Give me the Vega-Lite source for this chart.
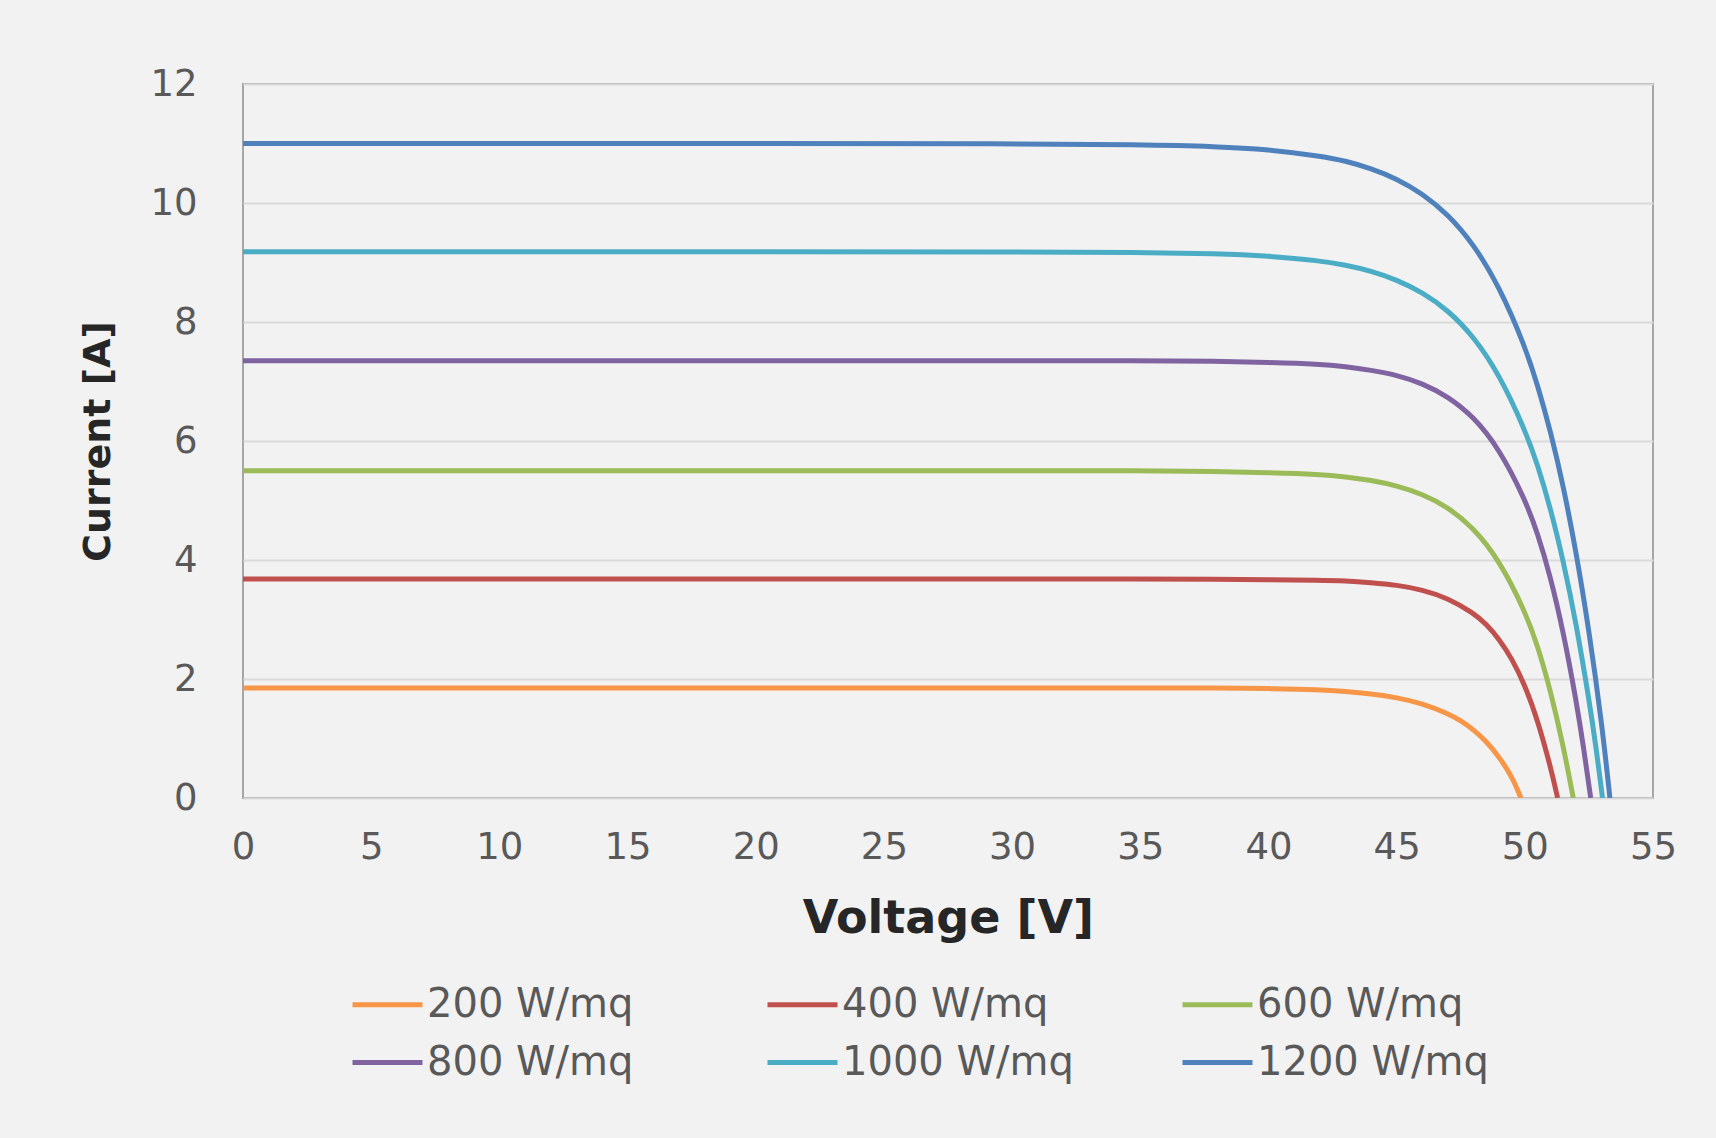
{
  "$schema": "https://vega.github.io/schema/vega-lite/v6.json",
  "autosize": "none",
  "width": 1410,
  "height": 714,
  "padding": {"left": 243, "top": 84, "right": 63, "bottom": 340},
  "background": "#f2f2f2",
  "config": {
    "view": {"stroke": "#a6a6a6", "strokeWidth": 2},
    "font": "DejaVu Sans"
  },
  "data": {"values": [
    {"s":"1200 W/mq","v":0,"i":11.0},{"s":"1200 W/mq","v":20,"i":11.0},{"s":"1200 W/mq","v":30,"i":11.0},{"s":"1200 W/mq","v":35,"i":10.98},{"s":"1200 W/mq","v":38,"i":10.95},{"s":"1200 W/mq","v":40,"i":10.9},{"s":"1200 W/mq","v":42,"i":10.79},{"s":"1200 W/mq","v":43,"i":10.71},{"s":"1200 W/mq","v":44,"i":10.58},{"s":"1200 W/mq","v":45,"i":10.41},{"s":"1200 W/mq","v":46,"i":10.16},{"s":"1200 W/mq","v":47,"i":9.81},{"s":"1200 W/mq","v":48,"i":9.31},{"s":"1200 W/mq","v":49,"i":8.6},{"s":"1200 W/mq","v":50,"i":7.6},{"s":"1200 W/mq","v":50.5,"i":6.94},{"s":"1200 W/mq","v":51,"i":6.17},{"s":"1200 W/mq","v":51.5,"i":5.25},{"s":"1200 W/mq","v":52,"i":4.14},{"s":"1200 W/mq","v":52.5,"i":2.83},{"s":"1200 W/mq","v":53,"i":1.27},{"s":"1200 W/mq","v":53.32,"i":0},
    {"s":"1000 W/mq","v":0,"i":9.18},{"s":"1000 W/mq","v":20,"i":9.18},{"s":"1000 W/mq","v":30,"i":9.18},{"s":"1000 W/mq","v":35,"i":9.17},{"s":"1000 W/mq","v":38,"i":9.15},{"s":"1000 W/mq","v":40,"i":9.11},{"s":"1000 W/mq","v":42,"i":9.03},{"s":"1000 W/mq","v":43,"i":8.96},{"s":"1000 W/mq","v":44,"i":8.86},{"s":"1000 W/mq","v":45,"i":8.71},{"s":"1000 W/mq","v":46,"i":8.5},{"s":"1000 W/mq","v":47,"i":8.2},{"s":"1000 W/mq","v":48,"i":7.76},{"s":"1000 W/mq","v":49,"i":7.12},{"s":"1000 W/mq","v":50,"i":6.2},{"s":"1000 W/mq","v":50.5,"i":5.6},{"s":"1000 W/mq","v":51,"i":4.87},{"s":"1000 W/mq","v":51.5,"i":3.99},{"s":"1000 W/mq","v":52,"i":2.94},{"s":"1000 W/mq","v":52.5,"i":1.67},{"s":"1000 W/mq","v":52.8,"i":0.79},{"s":"1000 W/mq","v":53.03,"i":0},
    {"s":"800 W/mq","v":0,"i":7.35},{"s":"800 W/mq","v":20,"i":7.35},{"s":"800 W/mq","v":30,"i":7.35},{"s":"800 W/mq","v":35,"i":7.35},{"s":"800 W/mq","v":38,"i":7.34},{"s":"800 W/mq","v":40,"i":7.32},{"s":"800 W/mq","v":42,"i":7.29},{"s":"800 W/mq","v":43,"i":7.25},{"s":"800 W/mq","v":44,"i":7.19},{"s":"800 W/mq","v":45,"i":7.11},{"s":"800 W/mq","v":46,"i":6.97},{"s":"800 W/mq","v":47,"i":6.75},{"s":"800 W/mq","v":48,"i":6.41},{"s":"800 W/mq","v":49,"i":5.87},{"s":"800 W/mq","v":50,"i":5.03},{"s":"800 W/mq","v":50.5,"i":4.45},{"s":"800 W/mq","v":51,"i":3.72},{"s":"800 W/mq","v":51.5,"i":2.8},{"s":"800 W/mq","v":52,"i":1.65},{"s":"800 W/mq","v":52.3,"i":0.83},{"s":"800 W/mq","v":52.57,"i":0},
    {"s":"600 W/mq","v":0,"i":5.5},{"s":"600 W/mq","v":20,"i":5.5},{"s":"600 W/mq","v":30,"i":5.5},{"s":"600 W/mq","v":35,"i":5.5},{"s":"600 W/mq","v":38,"i":5.49},{"s":"600 W/mq","v":40,"i":5.47},{"s":"600 W/mq","v":42,"i":5.44},{"s":"600 W/mq","v":43,"i":5.4},{"s":"600 W/mq","v":44,"i":5.34},{"s":"600 W/mq","v":45,"i":5.25},{"s":"600 W/mq","v":46,"i":5.11},{"s":"600 W/mq","v":47,"i":4.89},{"s":"600 W/mq","v":48,"i":4.54},{"s":"600 W/mq","v":49,"i":4.0},{"s":"600 W/mq","v":50,"i":3.15},{"s":"600 W/mq","v":50.5,"i":2.56},{"s":"600 W/mq","v":51,"i":1.81},{"s":"600 W/mq","v":51.5,"i":0.88},{"s":"600 W/mq","v":51.89,"i":0},
    {"s":"400 W/mq","v":0,"i":3.68},{"s":"400 W/mq","v":20,"i":3.68},{"s":"400 W/mq","v":30,"i":3.68},{"s":"400 W/mq","v":35,"i":3.68},{"s":"400 W/mq","v":38,"i":3.68},{"s":"400 W/mq","v":40,"i":3.67},{"s":"400 W/mq","v":42,"i":3.66},{"s":"400 W/mq","v":43,"i":3.65},{"s":"400 W/mq","v":44,"i":3.62},{"s":"400 W/mq","v":45,"i":3.58},{"s":"400 W/mq","v":46,"i":3.5},{"s":"400 W/mq","v":47,"i":3.36},{"s":"400 W/mq","v":48,"i":3.11},{"s":"400 W/mq","v":48.5,"i":2.92},{"s":"400 W/mq","v":49,"i":2.67},{"s":"400 W/mq","v":49.5,"i":2.34},{"s":"400 W/mq","v":50,"i":1.9},{"s":"400 W/mq","v":50.5,"i":1.31},{"s":"400 W/mq","v":51,"i":0.53},{"s":"400 W/mq","v":51.28,"i":0},
    {"s":"200 W/mq","v":0,"i":1.85},{"s":"200 W/mq","v":20,"i":1.85},{"s":"200 W/mq","v":30,"i":1.85},{"s":"200 W/mq","v":35,"i":1.85},{"s":"200 W/mq","v":38,"i":1.85},{"s":"200 W/mq","v":40,"i":1.84},{"s":"200 W/mq","v":42,"i":1.82},{"s":"200 W/mq","v":43,"i":1.79},{"s":"200 W/mq","v":44,"i":1.75},{"s":"200 W/mq","v":45,"i":1.69},{"s":"200 W/mq","v":46,"i":1.59},{"s":"200 W/mq","v":47,"i":1.42},{"s":"200 W/mq","v":47.5,"i":1.3},{"s":"200 W/mq","v":48,"i":1.15},{"s":"200 W/mq","v":48.5,"i":0.95},{"s":"200 W/mq","v":49,"i":0.69},{"s":"200 W/mq","v":49.5,"i":0.36},{"s":"200 W/mq","v":49.85,"i":0}
  ]},
  "mark": {"type": "line", "strokeWidth": 5, "interpolate": "basis", "clip": true},
  "encoding": {
    "x": {
      "field": "v", "type": "quantitative",
      "scale": {"domain": [0, 55], "nice": false},
      "axis": {
        "values": [0,5,10,15,20,25,30,35,40,45,50,55],
        "grid": false, "ticks": false, "domain": false,
        "labelFontSize": 37, "labelColor": "#595959", "labelPadding": 31,
        "labelFlush": false,
        "title": "Voltage  [V]", "titleFontSize": 46, "titleFontWeight": "bold",
        "titleColor": "#262626", "titleX": 705, "titleY": 120,
        "titleAlign": "center", "titleBaseline": "middle"
      }
    },
    "y": {
      "field": "i", "type": "quantitative",
      "scale": {"domain": [0, 12], "nice": false},
      "axis": {
        "values": [0,2,4,6,8,10,12],
        "grid": true, "gridColor": "#d9d9d9", "gridWidth": 2,
        "ticks": false, "domain": false,
        "labelFontSize": 37, "labelColor": "#595959", "labelPadding": 46,
        "labelFlush": false,
        "title": "Current [A]", "titleFontSize": 38, "titleFontWeight": "bold",
        "titleColor": "#262626", "titleX": -145, "titleY": 357,
        "titleAngle": 270, "titleAlign": "center", "titleBaseline": "middle"
      }
    },
    "color": {
      "field": "s", "type": "nominal",
      "scale": {
        "domain": ["200 W/mq","400 W/mq","600 W/mq","800 W/mq","1000 W/mq","1200 W/mq"],
        "range": ["#f79646","#c0504d","#9bbb59","#8064a2","#4bacc6","#4f81bd"]
      },
      "legend": {
        "title": null, "orient": "none", "legendX": 107, "legendY": 883,
        "direction": "horizontal", "columns": 3, "gridAlign": "all",
        "symbolType": "stroke", "symbolSize": 4900, "symbolStrokeWidth": 5,
        "labelFontSize": 40, "labelColor": "#595959", "labelOffset": 2,
        "columnPadding": 98, "rowPadding": -1, "labelLimit": 400
      }
    }
  }
}
